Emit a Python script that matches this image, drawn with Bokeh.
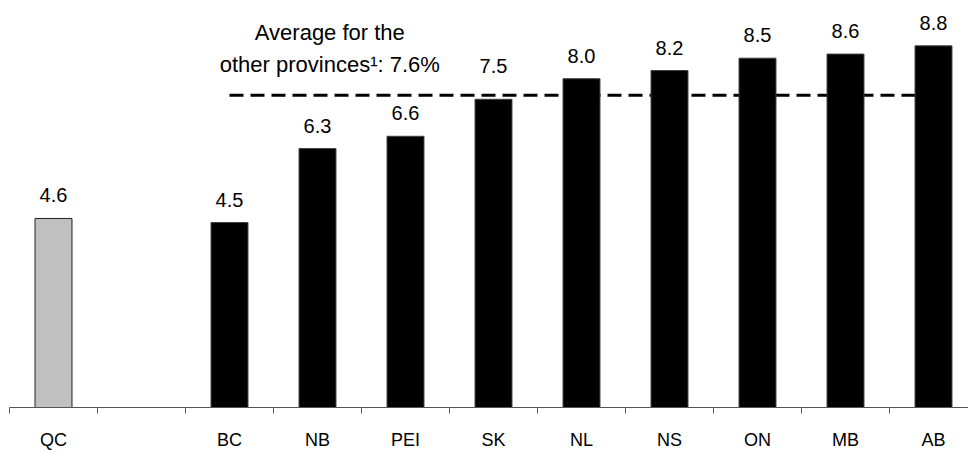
from bokeh.plotting import figure
from bokeh.models import Range1d, FixedTicker, Label, ColumnDataSource
from bokeh.core.properties import value
from bokeh.embed import file_html
from bokeh.resources import INLINE

# Province categories (an empty slot separates Quebec from the others)
categories = ["QC", "", "BC", "NB", "PEI", "SK", "NL", "NS", "ON", "MB", "AB"]
quebec_value = 4.6
province_names = ["BC", "NB", "PEI", "SK", "NL", "NS", "ON", "MB", "AB"]
province_values = [4.5, 6.3, 6.6, 7.5, 8.0, 8.2, 8.5, 8.6, 8.8]
average_other = 7.6

FONT = "Liberation Sans"
BAR_WIDTH = 0.42
LABEL_GAP = 23       # px between bar top and label baseline
LABEL_LIFT = 10      # extra lift for labels of bars sitting just under the average line

def centre(name):
    return categories.index(name) + 0.5

def label_offset(v):
    near_line = 0 < average_other - v < 0.3
    return -(LABEL_GAP + (LABEL_LIFT if near_line else 0))

p = figure(width=968, height=452, output_backend="svg", toolbar_location=None,
           x_range=Range1d(0, 959 / 88), y_range=Range1d(0, 411 / 41.5),
           min_border_left=9, min_border_right=0, min_border_top=0,
           min_border_bottom=41, y_axis_location=None)
p.outline_line_color = None
p.xgrid.visible = False
p.ygrid.visible = False
p.background_fill_color = "white"
p.border_fill_color = "white"

# Dashed average line, drawn first so the bars sit on top of it
p.line(x=[centre("BC"), centre("AB")], y=[average_other, average_other],
       line_color="black", line_width=3, line_dash="14 7")

# Quebec bar
qc_src = ColumnDataSource(dict(x=[centre("QC")], top=[quebec_value],
                               label=[f"{quebec_value:.1f}"],
                               dy=[label_offset(quebec_value)]))
p.vbar(x="x", top="top", bottom=0, width=BAR_WIDTH, source=qc_src,
       fill_color="#c0c0c0", line_color="#202020", line_width=1)

# Other provinces
prov_src = ColumnDataSource(dict(x=[centre(n) for n in province_names],
                                 top=province_values,
                                 label=[f"{v:.1f}" for v in province_values],
                                 dy=[label_offset(v) for v in province_values]))
p.vbar(x="x", top="top", bottom=0, width=BAR_WIDTH, source=prov_src,
       fill_color="black", line_color="#404040", line_width=1)

# Value labels above the bars
for src in (qc_src, prov_src):
    p.text(x="x", y="top", text="label", source=src, y_offset="dy",
           text_align="center", text_baseline="alphabetic",
           text_font=value(FONT), text_font_size="20px", text_color="black")

# Average annotation
ann_x = 3.64
p.add_layout(Label(x=ann_x, y=(411 - 32) / 41.5, text="Average for the",
                   text_align="center", text_baseline="alphabetic",
                   text_font=FONT, text_font_size="22px", text_color="black"))
p.add_layout(Label(x=ann_x, y=(411 - 65) / 41.5,
                   text=f"other provinces\u00b9: {average_other:.1f}%",
                   text_align="center", text_baseline="alphabetic",
                   text_font=FONT, text_font_size="22px", text_color="black"))

# Category axis: labels at slot centres, tick marks at slot boundaries
ax = p.xaxis[0]
ax.ticker = FixedTicker(ticks=[i + 0.5 for i in range(len(categories))],
                        minor_ticks=list(range(len(categories) + 1)))
ax.major_label_overrides = {i + 0.5: c for i, c in enumerate(categories)}
ax.major_tick_out = 0
ax.major_tick_in = 0
ax.minor_tick_out = 6
ax.minor_tick_in = 0
ax.minor_tick_line_color = "#555555"
ax.axis_line_color = "#555555"
ax.axis_line_width = 1
ax.major_label_standoff = 16
ax.major_label_text_font = FONT
ax.major_label_text_font_size = "18px"
ax.major_label_text_color = "black"

open("out.html", "w").write(file_html(p, INLINE))
